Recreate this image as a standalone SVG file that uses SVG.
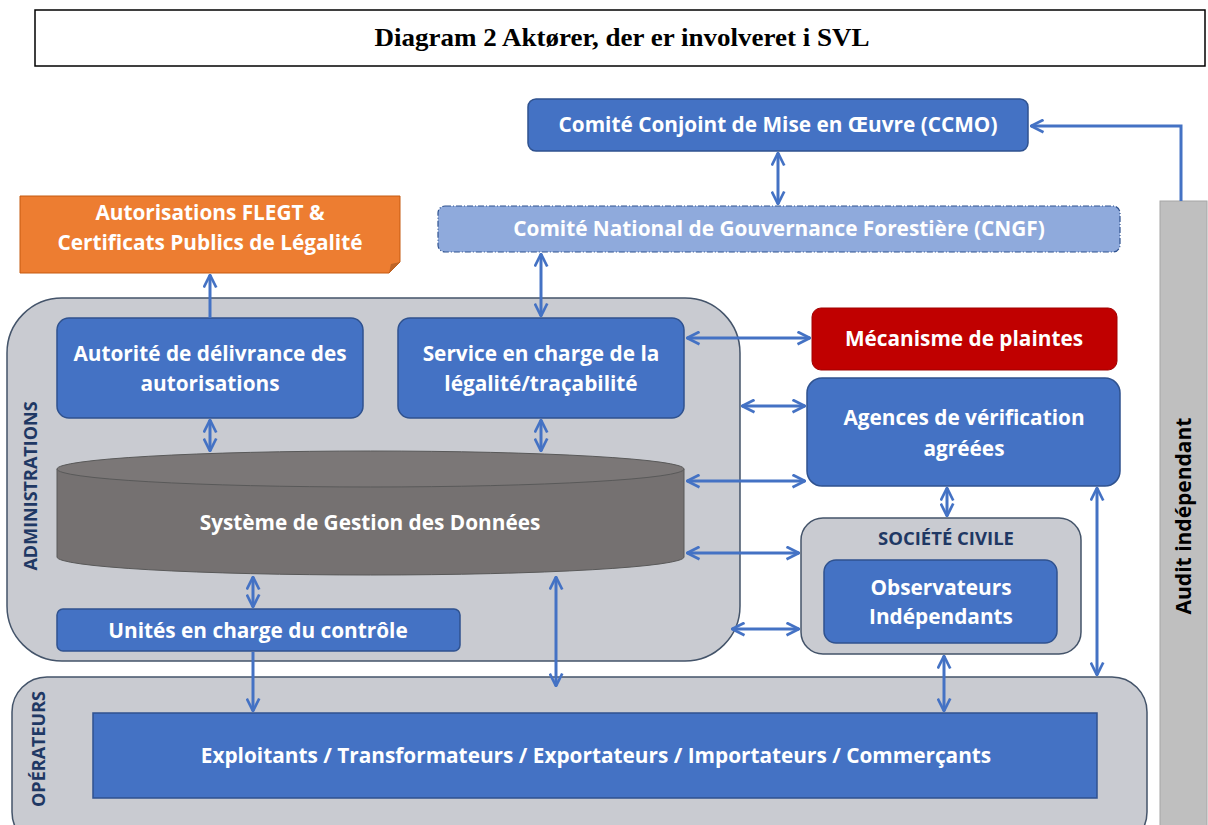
<svg xmlns="http://www.w3.org/2000/svg" width="1208" height="825" viewBox="0 0 1208 825">
<style>
.t{font-family:"Open Sans","Liberation Sans",sans-serif;font-weight:bold;fill:#fff;text-anchor:middle;font-size:20.8px}
.blue{fill:#4472C4;stroke:#2F528F;stroke-width:1.5}
.cont{fill:#C9CBD1;stroke:#44546A;stroke-width:1.5}
.lab{font-family:"Open Sans","Liberation Sans",sans-serif;font-weight:bold;fill:#1F3864;text-anchor:middle}
.c{fill:none;stroke:#4472C4;stroke-width:3}
</style>
<defs>
<marker id="a" viewBox="0 0 12 12" refX="11" refY="6" markerWidth="5" markerHeight="5" orient="auto-start-reverse" markerUnits="strokeWidth">
<path d="M1,1 L11,6 L1,11" fill="none" stroke="#4472C4" stroke-width="2.2"/>
</marker>
</defs>
<rect width="1208" height="825" fill="#fff"/>
<g id="title">
<rect x="35" y="10" width="1170" height="56" fill="#fff" stroke="#000" stroke-width="1.5"/>
<text x="622" y="46" font-family="'Liberation Serif',serif" font-weight="bold" font-size="25" text-anchor="middle" textLength="495" lengthAdjust="spacingAndGlyphs">Diagram 2 Aktører, der er involveret i SVL</text>
</g>
<g id="audit">
<rect x="1160" y="201" width="47" height="630" fill="#BFBFBF" stroke="#A6A6A6"/>
<text transform="translate(1191,516) rotate(-90)" font-family="'Open Sans','Liberation Sans',sans-serif" font-weight="bold" font-size="21" text-anchor="middle" fill="#000">Audit indépendant</text>
</g>
<g id="operateurs">
<rect class="cont" x="12" y="677" width="1135" height="170" rx="35"/>
<text class="lab" transform="translate(45,749) rotate(-90)" font-size="18">OPÉRATEURS</text>
</g>
<g id="administrations">
<rect class="cont" x="7" y="298" width="733" height="363" rx="55"/>
<text class="lab" transform="translate(37,486) rotate(-90)" font-size="18">ADMINISTRATIONS</text>
</g>
<g id="societe">
<rect class="cont" x="801" y="518" width="280" height="136" rx="22"/>
<text class="lab" x="946" y="545" font-size="18.5">SOCIÉTÉ CIVILE</text>
</g>
<g id="ccmo">
<rect class="blue" x="528" y="99" width="500" height="52" rx="8"/>
<text class="t" x="778" y="132">Comité Conjoint de Mise en Œuvre (CCMO)</text>
</g>
<g id="cngf">
<rect x="438" y="206" width="682" height="46" rx="7" fill="#8FAADC" stroke="#2F528F" stroke-width="1.2" stroke-dasharray="6,2,1,2"/>
<text class="t" x="779" y="236">Comité National de Gouvernance Forestière (CNGF)</text>
</g>
<g id="flegt">
<path d="M20,196 H400 V262 L389,273 H20 Z" fill="#ED7D31" stroke="#C55A11" stroke-width="1"/>
<path d="M389,273 L391,264 L400,262 Z" fill="#BE6426"/>
<text class="t" x="210" y="220">Autorisations FLEGT &amp;</text>
<text class="t" x="210" y="250">Certificats Publics de Légalité</text>
</g>
<g id="autorite">
<rect class="blue" x="57" y="318" width="306" height="100" rx="12"/>
<text class="t" x="210" y="361">Autorité de délivrance des</text>
<text class="t" x="210" y="391">autorisations</text>
</g>
<g id="service">
<rect class="blue" x="398" y="318" width="286" height="100" rx="12"/>
<text class="t" x="541" y="361">Service en charge de la</text>
<text class="t" x="541" y="391">légalité/traçabilité</text>
</g>
<g id="sgd">
<path d="M57,469 V557 A313.5,18 0 0 0 684,557 V469 Z" fill="#757171" stroke="#595959" stroke-width="1"/>
<ellipse cx="370.5" cy="469" rx="313.5" ry="18" fill="#7B7777" stroke="#595959" stroke-width="1"/>
<text class="t" x="370" y="530">Système de Gestion des Données</text>
</g>
<g id="unites">
<rect class="blue" x="57" y="609" width="403" height="42" rx="6"/>
<text class="t" x="258" y="638">Unités en charge du contrôle</text>
</g>
<g id="mecanisme">
<rect x="812" y="308" width="305" height="62" rx="9" fill="#C00000" stroke="#A00000" stroke-width="1"/>
<text class="t" x="964" y="346">Mécanisme de plaintes</text>
</g>
<g id="agences">
<rect class="blue" x="807" y="378" width="313" height="108" rx="15"/>
<text class="t" x="964" y="425">Agences de vérification</text>
<text class="t" x="964" y="456">agréées</text>
</g>
<g id="observateurs">
<rect class="blue" x="824" y="560" width="233" height="83" rx="12"/>
<text class="t" x="941" y="595">Observateurs</text>
<text class="t" x="941" y="624">Indépendants</text>
</g>
<g id="exploitants">
<rect class="blue" x="93" y="713" width="1004" height="85"/>
<text class="t" x="596" y="763">Exploitants / Transformateurs / Exportateurs / Importateurs / Commerçants</text>
</g>
<g id="connectors">
<line class="c" x1="778" y1="153" x2="778" y2="204" marker-start="url(#a)" marker-end="url(#a)"/>
<polyline class="c" points="1181,201 1181,126 1031,126" marker-end="url(#a)"/>
<line class="c" x1="541" y1="254" x2="541" y2="316" marker-start="url(#a)" marker-end="url(#a)"/>
<line class="c" x1="210" y1="318" x2="210" y2="275" marker-end="url(#a)"/>
<line class="c" x1="210" y1="420" x2="210" y2="451" marker-start="url(#a)" marker-end="url(#a)"/>
<line class="c" x1="541" y1="420" x2="541" y2="451" marker-start="url(#a)" marker-end="url(#a)"/>
<line class="c" x1="253" y1="577" x2="253" y2="607" marker-start="url(#a)" marker-end="url(#a)"/>
<line class="c" x1="253" y1="652" x2="253" y2="711" marker-end="url(#a)"/>
<line class="c" x1="556" y1="577" x2="556" y2="686" marker-start="url(#a)" marker-end="url(#a)"/>
<line class="c" x1="687" y1="338" x2="810" y2="338" marker-start="url(#a)" marker-end="url(#a)"/>
<line class="c" x1="742" y1="406" x2="805" y2="406" marker-start="url(#a)" marker-end="url(#a)"/>
<line class="c" x1="687" y1="481" x2="805" y2="481" marker-start="url(#a)" marker-end="url(#a)"/>
<line class="c" x1="687" y1="553" x2="799" y2="553" marker-start="url(#a)" marker-end="url(#a)"/>
<line class="c" x1="732" y1="629" x2="799" y2="629" marker-start="url(#a)" marker-end="url(#a)"/>
<line class="c" x1="947" y1="488" x2="947" y2="516" marker-start="url(#a)" marker-end="url(#a)"/>
<line class="c" x1="944" y1="656" x2="944" y2="711" marker-start="url(#a)" marker-end="url(#a)"/>
<line class="c" x1="1097" y1="488" x2="1097" y2="675" marker-start="url(#a)" marker-end="url(#a)"/>
</g>
</svg>
